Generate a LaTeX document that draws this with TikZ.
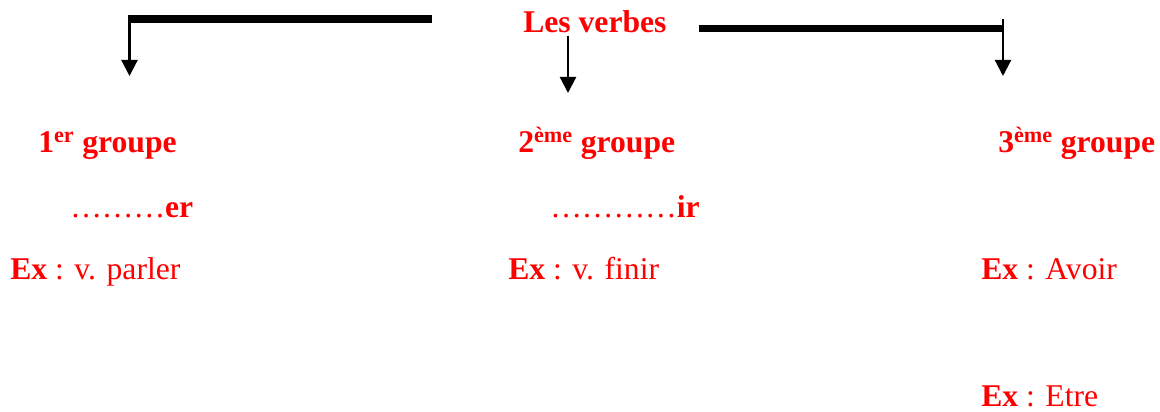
\documentclass[tikz,border=0pt]{standalone}
\usepackage{fontspec}
\setmainfont{Liberation Serif}
\usetikzlibrary{arrows.meta}
\tikzset{
  lbl/.style={text=red, anchor=base west, inner sep=0pt, font=\fontsize{22.5}{26}\selectfont},
  barre/.style={line width=5.4pt},
  fleche/.style={line width=1.6pt, -{Triangle[length=11.4pt,width=11.4pt]}}
}
\begin{document}
\begin{tikzpicture}[x=0.025cm, y=-0.025cm]
	\useasboundingbox (0,0) rectangle (1160,412);
	% titre
	\node[lbl] (verbes) at (523,33) {\bfseries Les verbes};
	% les trois groupes
	\node[lbl] (g1) at (38,153) {\bfseries 1\textsuperscript{er} groupe};
	\node[lbl] (g2) at (518,153) {\bfseries 2\textsuperscript{ème} groupe};
	\node[lbl] (g3) at (998,153) {\bfseries 3\textsuperscript{ème} groupe};
	\node[lbl] (t1) at (70,218) {\dots\dots\dots\textbf{er}};
	\node[lbl] (t2) at (550,218) {\dots\dots\dots\dots\textbf{ir}};
	\node[lbl] (ex1) at (10,280) {\textbf{Ex} : v. parler};
	\node[lbl] (ex2) at (508,280) {\textbf{Ex} : v. finir};
	\node[lbl] (ex3) at (981,280) {\textbf{Ex} : Avoir};
	\node[lbl] (ex4) at (981,407) {\textbf{Ex} : Etre};
	% traits et fleches
	\coordinate (b1a) at (128,19);
	\coordinate (b1b) at (432,19);
	\coordinate (f1) at (129.5,76);
	\coordinate (f2a) at (568,36);
	\coordinate (f2) at (568,93);
	\coordinate (b3a) at (699,28.5);
	\coordinate (b3b) at (1003,28.5);
	\coordinate (b3t) at (1003,19);
	\coordinate (f3) at (1003,76);
	\draw[barre] (b1b) -- (b1a);
	\draw[fleche] (b1a -| f1) -- (f1);
	\draw[fleche] (f2a) -- (f2);
	\draw[barre] (b3a) -- (b3b);
	\draw[fleche] (b3t) -- (f3);
\end{tikzpicture}
\end{document}
